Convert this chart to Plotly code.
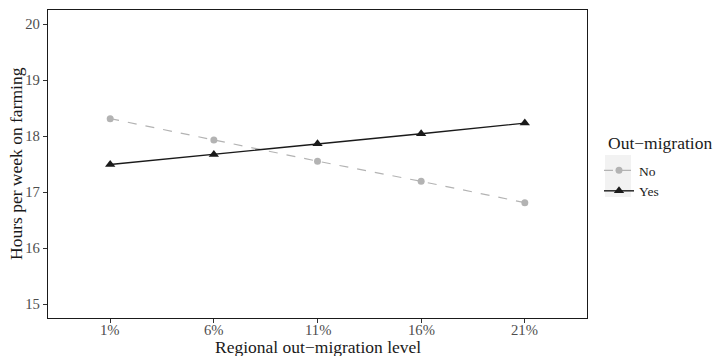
import plotly.graph_objects as go

levels = ["1%", "6%", "11%", "16%", "21%"]
no_vals = [18.31, 17.93, 17.55, 17.19, 16.81]
yes_vals = [17.49, 17.67, 17.86, 18.04, 18.23]
y_ticks = [15, 16, 17, 18, 19, 20]

xpos = list(range(1, len(levels) + 1))
FONT = "Liberation Serif"

# plot area in pixels (for converting legend placement to paper coords)
L, R, T, B = 48, 587, 10, 318
W, H = R - L, B - T
def px(x):
    return (x - L) / W
def py(y):
    return (B - y) / H

fig = go.Figure()
fig.add_trace(go.Scatter(
    x=xpos, y=no_vals, name="No", mode="lines+markers",
    line=dict(color="#B3B3B3", dash="dash", width=1.2),
    marker=dict(symbol="circle", size=7, color="#B3B3B3"),
))
fig.add_trace(go.Scatter(
    x=xpos, y=yes_vals, name="Yes", mode="lines+markers",
    line=dict(color="#1A1A1A", width=1.4),
    marker=dict(symbol="triangle-up", size=9, color="#1A1A1A"),
))

tick_font = dict(family=FONT, size=14.7, color="#4D4D4D")
axis_common = dict(
    showline=True, linecolor="#1A1A1A", linewidth=1.2, mirror=True,
    ticks="outside", ticklen=4, tickcolor="#333333", tickwidth=1,
    showgrid=False, zeroline=False, automargin=False,
    tickfont=tick_font,
)

title_font = dict(family=FONT, size=17.5, color="#1A1A1A")

# x tick labels placed as annotations at the axis' own category positions
xtick_ann = [
    dict(text=lab, x=xv, xref="x", y=py(330), yref="paper",
         xanchor="center", yanchor="middle", showarrow=False,
         borderpad=0, font=tick_font)
    for xv, lab in zip(xpos, levels)
]

fig.update_layout(
    width=713, height=356,
    margin=dict(l=L, r=713 - R, t=T, b=356 - B),
    paper_bgcolor="white", plot_bgcolor="white",
    font=dict(family=FONT),
    xaxis=dict(axis_common, range=[0.4, 5.6], tickvals=xpos, showticklabels=False),
    yaxis=dict(axis_common, range=[14.75, 20.25], tickvals=y_ticks),
    legend=dict(
        x=px(599), xanchor="left", y=py(155), yanchor="top",
        font=dict(family=FONT, size=13.5, color="#1A1A1A"),
        bgcolor="rgba(0,0,0,0)", tracegroupgap=0, itemwidth=30,
    ),
    annotations=xtick_ann + [
        dict(text="Out−migration", x=px(606), y=py(143), xref="paper", yref="paper",
             xanchor="left", yanchor="middle", showarrow=False, font=title_font),
        dict(text="Regional out−migration level", x=0.5, y=py(358),
             xref="paper", yref="paper", xanchor="center", yanchor="bottom",
             borderpad=0, showarrow=False, font=title_font),
        dict(text="Hours per week on farming", x=px(16), y=py(164),
             xref="paper", yref="paper", xanchor="center", yanchor="middle",
             textangle=-90, showarrow=False, font=title_font),
    ],
    shapes=[dict(
        type="rect", xref="paper", yref="paper",
        x0=px(605), x1=px(631), y0=py(197), y1=py(155),
        fillcolor="#F2F2F2", line=dict(width=0), layer="below",
    )],
)

fig.write_html("out.html")
